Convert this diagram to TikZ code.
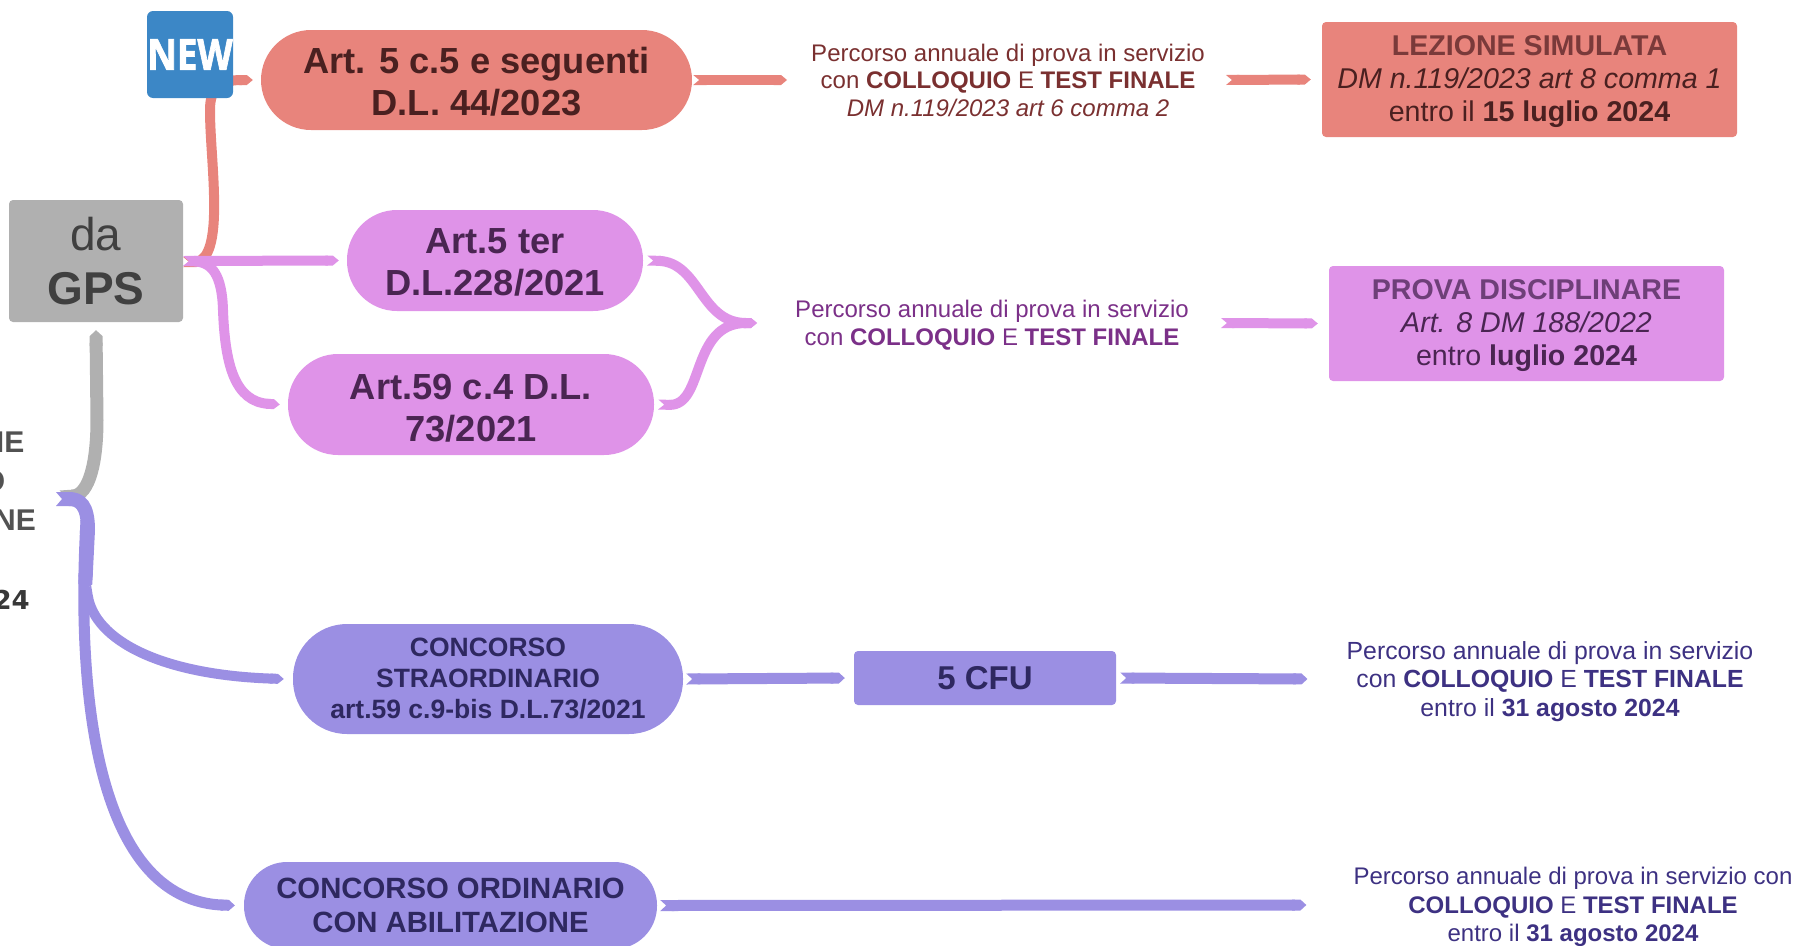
\documentclass[tikz,border=0pt]{standalone}
\usepackage{fontspec}
\setmainfont{Liberation Sans}
\newfontfamily\badgefont{Open Sans}[BoldFeatures={FakeBold=1.5,FakeStretch=0.85}]
\newfontfamily\dejafont{DejaVu Sans}
\usetikzlibrary{arrows.meta,calc}
\definecolor{cred}{HTML}{E8847C}
\definecolor{cpink}{HTML}{DF93E8}
\definecolor{cblue}{HTML}{9B8FE3}
\definecolor{cgrey}{HTML}{B0B0B0}
\definecolor{cnew}{HTML}{3C87C6}
\definecolor{tred}{HTML}{7A3030}
\definecolor{tpink}{HTML}{7B3088}
\definecolor{tblue}{HTML}{3D3182}
\definecolor{dred}{HTML}{4A2020}
\definecolor{dpink}{HTML}{4A2552}
\definecolor{dblue}{HTML}{2E2860}
\definecolor{hred}{HTML}{7A3A3A}
\definecolor{hpink}{HTML}{6E3F78}
\newcommand{\fs}[2]{\fontsize{#1}{#2}\selectfont}
\newcommand{\dn}[1]{\rule{0pt}{#1pt}}
\tikzset{
 x=1pt,y=-1pt,
 box/.style={inner sep=0pt,align=center,rounded corners=4pt},
 pill/.style={inner sep=0pt,align=center,rounded corners=#1},
 lab/.style={inner sep=0pt,align=center},
 ribbon/.style={line width=#1,line cap=butt,{Triangle Cap[reversed,length=6pt]}-{Triangle Cap[length=6pt]}},
 ribbon/.default=9pt,
 cutlab/.style={inner sep=0pt,anchor=east,text=black!68,font=\fs{30}{32}\bfseries},
 big/.style={font=\bfseries\fs{36.3}{42}},
 body/.style={font=\fs{28.6}{33}},
 small/.style={font=\fs{24}{#1}},
}
\begin{document}
\begin{tikzpicture}
\useasboundingbox (0,0) rectangle (1798,945);
% left, cut text
\node[cutlab] (la) at (24.5,442) {NE};
\node[cutlab] (lb) at (5.5,481) {O};
\node[cutlab] (lc) at (36,520) {NE};
\node[cutlab,text=black!78,font=\dejafont\fs{26}{28}\bfseries] (ld) at (30,600) {24};
\coordinate (hub) at (56,499);
% nodes
\node[box,fill=cgrey,minimum width=174pt,minimum height=122pt,text=black!75,font=\fs{46}{54}] (gps) at (96,261) {da\\\textbf{GPS}};
\node[pill=50pt,fill=cred,minimum width=431pt,minimum height=100pt,text=dred,big] (red) at (476.5,80) {\dn{29}Art. 5 c.5 e seguenti\\D.L. 44/2023};
\node[pill=50pt,fill=cpink,minimum width=296pt,minimum height=101pt,text=dpink,big] (p1) at (495,260.5) {\dn{29}Art.5 ter\\D.L.228/2021};
\node[pill=50pt,fill=cpink,minimum width=366pt,minimum height=101pt,text=dpink,big] (p2) at (471,404.5) {\dn{33}Art.59 c.4 D.L.\\73/2021};
\node[pill=54pt,fill=cblue,minimum width=390pt,minimum height=110pt,text=dblue,font=\bfseries\fs{26.5}{31}] (b1) at (488,679) {CONCORSO\\STRAORDINARIO\\art.59 c.9-bis D.L.73/2021};
\node[pill=43pt,fill=cblue,minimum width=413pt,minimum height=87pt,text=dblue,font=\bfseries\fs{29.3}{34}] (b2) at (450.5,905.5) {CONCORSO ORDINARIO\\CON ABILITAZIONE};
\node[box,fill=cblue,minimum width=262pt,minimum height=54pt,text=dblue,font=\bfseries\fs{33}{38}] (cfu) at (985,678) {5 CFU};
\node[box,fill=cred,minimum width=415pt,minimum height=115pt,text=dred,body] (rbox) at (1529.5,79.5) {\dn{25}\textbf{\color{hred}LEZIONE SIMULATA}\\\textit{DM n.119/2023 art 8 comma 1}\\entro il \textbf{15 luglio 2024}};
\node[box,fill=cpink,minimum width=395pt,minimum height=115pt,text=dpink,body] (pbox) at (1526.5,323.5) {\dn{25}\textbf{\color{hpink}PROVA DISCIPLINARE}\\\textit{Art. 8 DM 188/2022}\\entro \textbf{luglio 2024}};
\node[lab,text=tred,small=27.5] (tr) at (1008,80) {\dn{18}Percorso annuale di prova in servizio\\con \textbf{COLLOQUIO} E \textbf{TEST FINALE}\\\textit{DM n.119/2023 art 6 comma 2}};
\node[lab,text=tpink,small=27.5] (tp) at (992,323) {\dn{22}Percorso annuale di prova in servizio\\con \textbf{COLLOQUIO} E \textbf{TEST FINALE}};
\node[lab,text=tblue,font=\fs{24.8}{28.5}] (tb1) at (1550,679) {\dn{22.5}Percorso annuale di prova in servizio\\con \textbf{COLLOQUIO} E \textbf{TEST FINALE}\\entro il \textbf{31 agosto 2024}};
\node[lab,text=tblue,small=28.5] (tb2) at (1573,905) {\dn{22}Percorso annuale di prova in servizio con\\\textbf{COLLOQUIO} E \textbf{TEST FINALE}\\entro il \textbf{31 agosto 2024}};
% connectors
\draw[cred,ribbon=10pt] ([yshift=-1]gps.east) .. controls (205,262) and (213,250) .. (214,215) .. controls (215,180) and (210,140) .. (210,110) .. controls (210,88) and (220,80) .. ([xshift=-8]red.west);
\draw[cpink,ribbon=10pt] (gps.east) -- ([xshift=-8]p1.west);
\draw[cpink,ribbon=10pt] (gps.east) .. controls (212,262) and (222,275) .. (223,310) .. controls (225,365) and (235,402) .. ([xshift=-8]p2.west);
\coordinate (mrg) at (757,323);
\draw[cpink,ribbon=10pt] ([xshift=4]p1.east) .. controls (700,262) and (700,323) .. (mrg);
\draw[cpink,ribbon=10pt] ([xshift=4]p2.east) .. controls (705,406) and (690,323) .. (mrg);
\draw[cgrey,ribbon=13pt] (60,497) .. controls (90,495) and (97,460) .. (97,420) -- ([yshift=-8]gps.south);
\draw[cblue,ribbon=14pt] (hub) .. controls (80,499) and (88,505) .. (88,530) -- (85,590);
\draw[cblue,ribbon=10pt] (86,585) .. controls (95,640) and (160,675) .. ([xshift=-9]b1.west);
\draw[cblue,ribbon=11pt] (86,520) .. controls (80,640) and (80,900) .. ([xshift=-9]b2.west);
\draw[cred,ribbon=10pt] ([xshift=1]red.east) -- ([xshift=-24]tr.west);
\draw[cred,ribbon=10pt] ([xshift=21]tr.east) -- ([xshift=-11]rbox.west);
\draw[cpink,ribbon=10pt] ([xshift=32]tp.east) -- ([xshift=-11]pbox.west);
\draw[cblue,ribbon=11pt] ([xshift=3]b1.east) -- ([xshift=-9]cfu.west);
\draw[cblue,ribbon=11pt] ([xshift=4]cfu.east) -- ([xshift=-39]tb1.west);
\draw[cblue,ribbon=11pt] ([xshift=3]b2.east) -- ([xshift=-47]tb2.west);
% NEW
\node[box,fill=cnew,minimum width=86pt,minimum height=87pt,text=white,rounded corners=6pt,font=\badgefont\bfseries\fs{43}{46}] (nw) at (190,54.5) {NEW};
\end{tikzpicture}
\end{document}
